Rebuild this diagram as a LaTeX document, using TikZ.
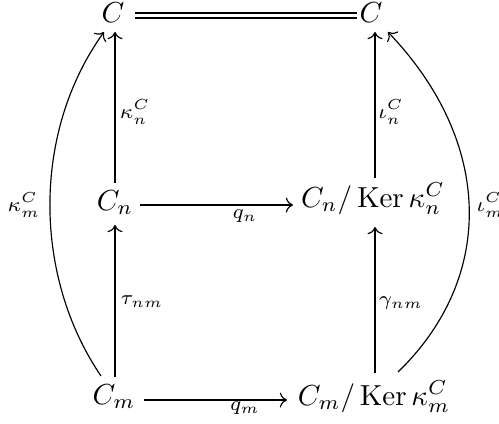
\documentclass[tikz,border=0pt]{standalone}
\usepackage{amsmath}
\usetikzlibrary{calc,arrows.meta}
\tikzset{
  obj/.style={anchor=base, inner sep=0pt},
  lbl/.style={inner sep=0pt, font=\scriptsize},
  arr/.style={line width=0.4pt, -{Computer Modern Rightarrow}},
  eqline/.style={line width=0.4pt, double, double distance=1.3pt},
}
\begin{document}
\begin{tikzpicture}[x=0.345pt, y=-0.345pt]
\useasboundingbox (0,0) rectangle (499,423);
% objects
\node[obj] (ct)  at (113,23)  {$C$};
\node[obj] (crt) at (371,23)  {$C$};
\node[obj] (cn)  at (115,210) {$C_n$};
\node[obj] (rn)  at (373,207) {$C_n/\operatorname{Ker}\kappa_n^C$};
\node[obj] (cm)  at (114,404) {$C_m$};
\node[obj] (rm)  at (374,405) {$C_m/\operatorname{Ker}\kappa_m^C$};
% labels
\node[lbl] (lkn) at (135,112) {$\kappa_n^C$};
\node[lbl] (lin) at (391,112) {$\iota_n^C$};
\node[lbl] (ltau) at (142,302) {$\tau_{nm}$};
\node[lbl] (lgam) at (401,303) {$\gamma_{nm}$};
\node[lbl] (lkm) at (24,205) {$\kappa_m^C$};
\node[lbl, anchor=west] (lim) at (476,205) {$\iota_m^C$};
\node[lbl] (lqn) at (245,216) {$q_n$};
\node[lbl] (lqm) at (245,408) {$q_m$};
% connectors
\draw[eqline] ($(ct.base)+(22,-7.5)$) -- ($(crt.base)+(-14,-7.5)$);
\draw[arr] ($(cn.base)+(0,-27)$) -- ($(ct.base)+(2,9)$);
\draw[arr] ($(cm.base)+(1,-27)$) -- ($(cn.base)+(0,15)$);
\draw[arr] ($(rn.base)+(2,-29)$) -- ($(crt.base)+(4,9)$);
\draw[arr] ($(rm.base)+(1,-32)$) -- ($(rn.base)+(2,20)$);
\draw[arr] ($(cn.base)+(25,-5)$) -- ($(rn.base)+(-80,-2)$);
\draw[arr] ($(cm.base)+(30,-4)$) -- ($(rm.base)+(-87,-5)$);
\draw[arr] ($(cm.base)+(-13,-28)$) .. controls +(-68,-100) and +(-72,100) .. ($(ct.base)+(-9,9)$);
\draw[arr] ($(rm.base)+(24,-33)$) .. controls +(98,-95) and +(105,110) .. ($(crt.base)+(17,9)$);
\end{tikzpicture}
\end{document}
